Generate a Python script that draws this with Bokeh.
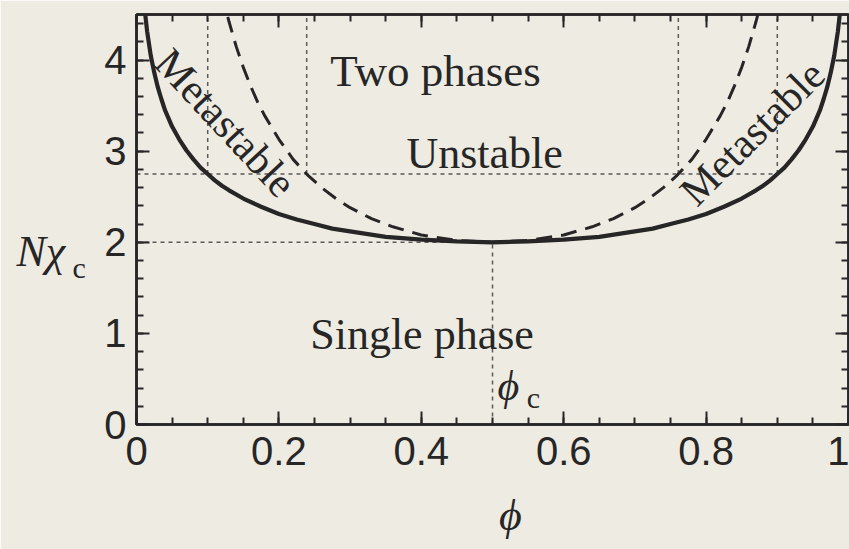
from bokeh.plotting import figure
from bokeh.models import Label, LinearAxis, SingleIntervalTicker
from bokeh.embed import file_html
from bokeh.resources import INLINE

# Binodal (coexistence) curve
binodal_phi = [0.010, 0.012, 0.015, 0.020, 0.025, 0.030, 0.035, 0.040, 0.045, 0.050,
               0.060, 0.070, 0.080, 0.090, 0.100, 0.110, 0.120, 0.130, 0.150, 0.175,
               0.200, 0.225, 0.250, 0.275, 0.300, 0.350, 0.400, 0.450, 0.500,
               0.550, 0.600, 0.650, 0.700, 0.725, 0.750, 0.775, 0.800, 0.825, 0.850,
               0.870, 0.880, 0.890, 0.900, 0.910, 0.920, 0.930, 0.940, 0.950, 0.955,
               0.960, 0.965, 0.970, 0.975, 0.980, 0.985, 0.988, 0.990]
binodal_chi = [4.69, 4.52, 4.31, 4.05, 3.86, 3.70, 3.57, 3.45, 3.36, 3.27,
               3.13, 3.01, 2.91, 2.82, 2.75, 2.68, 2.62, 2.57, 2.48, 2.39,
               2.31, 2.25, 2.20, 2.15, 2.12, 2.06, 2.03, 2.01, 2.00,
               2.01, 2.03, 2.06, 2.12, 2.15, 2.20, 2.25, 2.31, 2.39, 2.48,
               2.57, 2.62, 2.68, 2.75, 2.82, 2.91, 3.01, 3.13, 3.27, 3.36,
               3.45, 3.57, 3.70, 3.86, 4.05, 4.31, 4.52, 4.69]

# Spinodal curve
spinodal_phi = [0.120, 0.127, 0.130, 0.140, 0.150, 0.160, 0.170, 0.180, 0.200, 0.220,
                0.240, 0.260, 0.280, 0.300, 0.330, 0.360, 0.400, 0.450, 0.500,
                0.550, 0.600, 0.640, 0.670, 0.700, 0.720, 0.740, 0.760, 0.780, 0.800,
                0.820, 0.830, 0.840, 0.850, 0.860, 0.870, 0.873, 0.880]
spinodal_chi = [4.74, 4.51, 4.42, 4.15, 3.92, 3.72, 3.54, 3.39, 3.13, 2.91,
                2.74, 2.60, 2.48, 2.38, 2.26, 2.17, 2.08, 2.02, 2.00,
                2.02, 2.08, 2.17, 2.26, 2.38, 2.48, 2.60, 2.74, 2.91, 3.13,
                3.39, 3.54, 3.72, 3.92, 4.15, 4.42, 4.51, 4.74]

# Guide lines marking where the curves cross chi N = 2.75 and the critical point
guide_x0 = [0.100, 0.239, 0.761, 0.900, 0.0, 0.0, 0.500]
guide_y0 = [2.75, 2.75, 2.75, 2.75, 2.75, 2.00, 0.00]
guide_x1 = [0.100, 0.239, 0.761, 0.900, 0.900, 0.500, 0.500]
guide_y1 = [4.50, 4.50, 4.50, 4.50, 2.75, 2.00, 2.00]

BG = "#eeebe2"
INK = "#262626"
SERIF = "Liberation Serif"
SANS = "Liberation Sans"

p = figure(width=849, height=549, x_range=(0, 1), y_range=(0, 4.5),
           output_backend="svg", toolbar_location=None,
           min_border_left=136, min_border_right=1,
           min_border_top=14, min_border_bottom=125)
p.background_fill_color = BG
p.border_fill_color = BG
p.outline_line_color = INK
p.outline_line_width = 2.5
p.grid.visible = False

# dotted guides
p.segment(x0=guide_x0, y0=guide_y0, x1=guide_x1, y1=guide_y1,
          line_color="#5a5a5a", line_width=1.5, line_dash="4 4")

# curves
p.line(binodal_phi, binodal_chi, line_color=INK, line_width=4.2)
p.line(spinodal_phi, spinodal_chi, line_color=INK, line_width=3, line_dash="16 9")


def style_axis(ax, interval, minor, labels=True):
    ax.ticker = SingleIntervalTicker(interval=interval, num_minor_ticks=minor)
    ax.axis_line_color = INK
    ax.axis_line_width = 2.5
    ax.major_tick_in = 13
    ax.major_tick_out = 0
    ax.minor_tick_in = 7
    ax.minor_tick_out = 0
    ax.major_tick_line_color = INK
    ax.minor_tick_line_color = INK
    ax.major_tick_line_width = 2
    ax.minor_tick_line_width = 2
    if labels:
        ax.major_label_text_font = SANS
        ax.major_label_text_font_size = "40px"
        ax.major_label_text_color = INK
    else:
        # tick marks only on the mirrored sides
        ax.major_label_text_font_size = "0px"
        ax.major_label_text_color = None
        ax.major_label_standoff = 0


style_axis(p.xaxis[0], 0.2, 4)
style_axis(p.yaxis[0], 1, 5)
p.xaxis[0].major_label_standoff = 12
p.yaxis[0].major_label_standoff = 10
p.xaxis[0].major_label_overrides = {0: "0", 1: "1"}

top = LinearAxis()
style_axis(top, 0.2, 4, labels=False)
p.add_layout(top, "above")
right = LinearAxis()
style_axis(right, 1, 5, labels=False)
p.add_layout(right, "right")


def make_text(x, y, text, size, font=SERIF, style="normal", angle=0.0,
              align="left", baseline="alphabetic", units="data"):
    return Label(x=x, y=y, text=text, text_font=font, text_font_size=size,
                 text_font_style=style, text_color=INK, angle=angle,
                 text_align=align, text_baseline=baseline,
                 x_units=units, y_units=units)


for lbl in [
    make_text(0.42, 3.88, "Two phases", "45px", align="center"),
    make_text(0.489, 2.97, "Unstable", "44px", align="center"),
    make_text(0.401, 0.99, "Single phase", "44px", align="center"),
    make_text(0.125, 3.31, "Metastable", "42px", angle=-0.82, align="center", baseline="middle"),
    make_text(0.865, 3.20, "Metastable", "42px", angle=0.785, align="center", baseline="middle"),
    # critical composition
    make_text(0.507, 0.42, "ϕ", "42px", style="italic"),
    make_text(0.548, 0.30, "c", "30px"),
]:
    p.add_layout(lbl)

# axis titles, positioned in canvas pixels in the side panels
p.add_layout(make_text(510, 515, "ϕ", "44px", style="italic", align="center", units="canvas"), "below")
p.add_layout(make_text(16, 251, "Nχ", "44px", style="italic", units="canvas"), "left")
p.add_layout(make_text(72, 267, "c", "30px", units="canvas"), "left")

open("out.html", "w").write(file_html(p, INLINE))
